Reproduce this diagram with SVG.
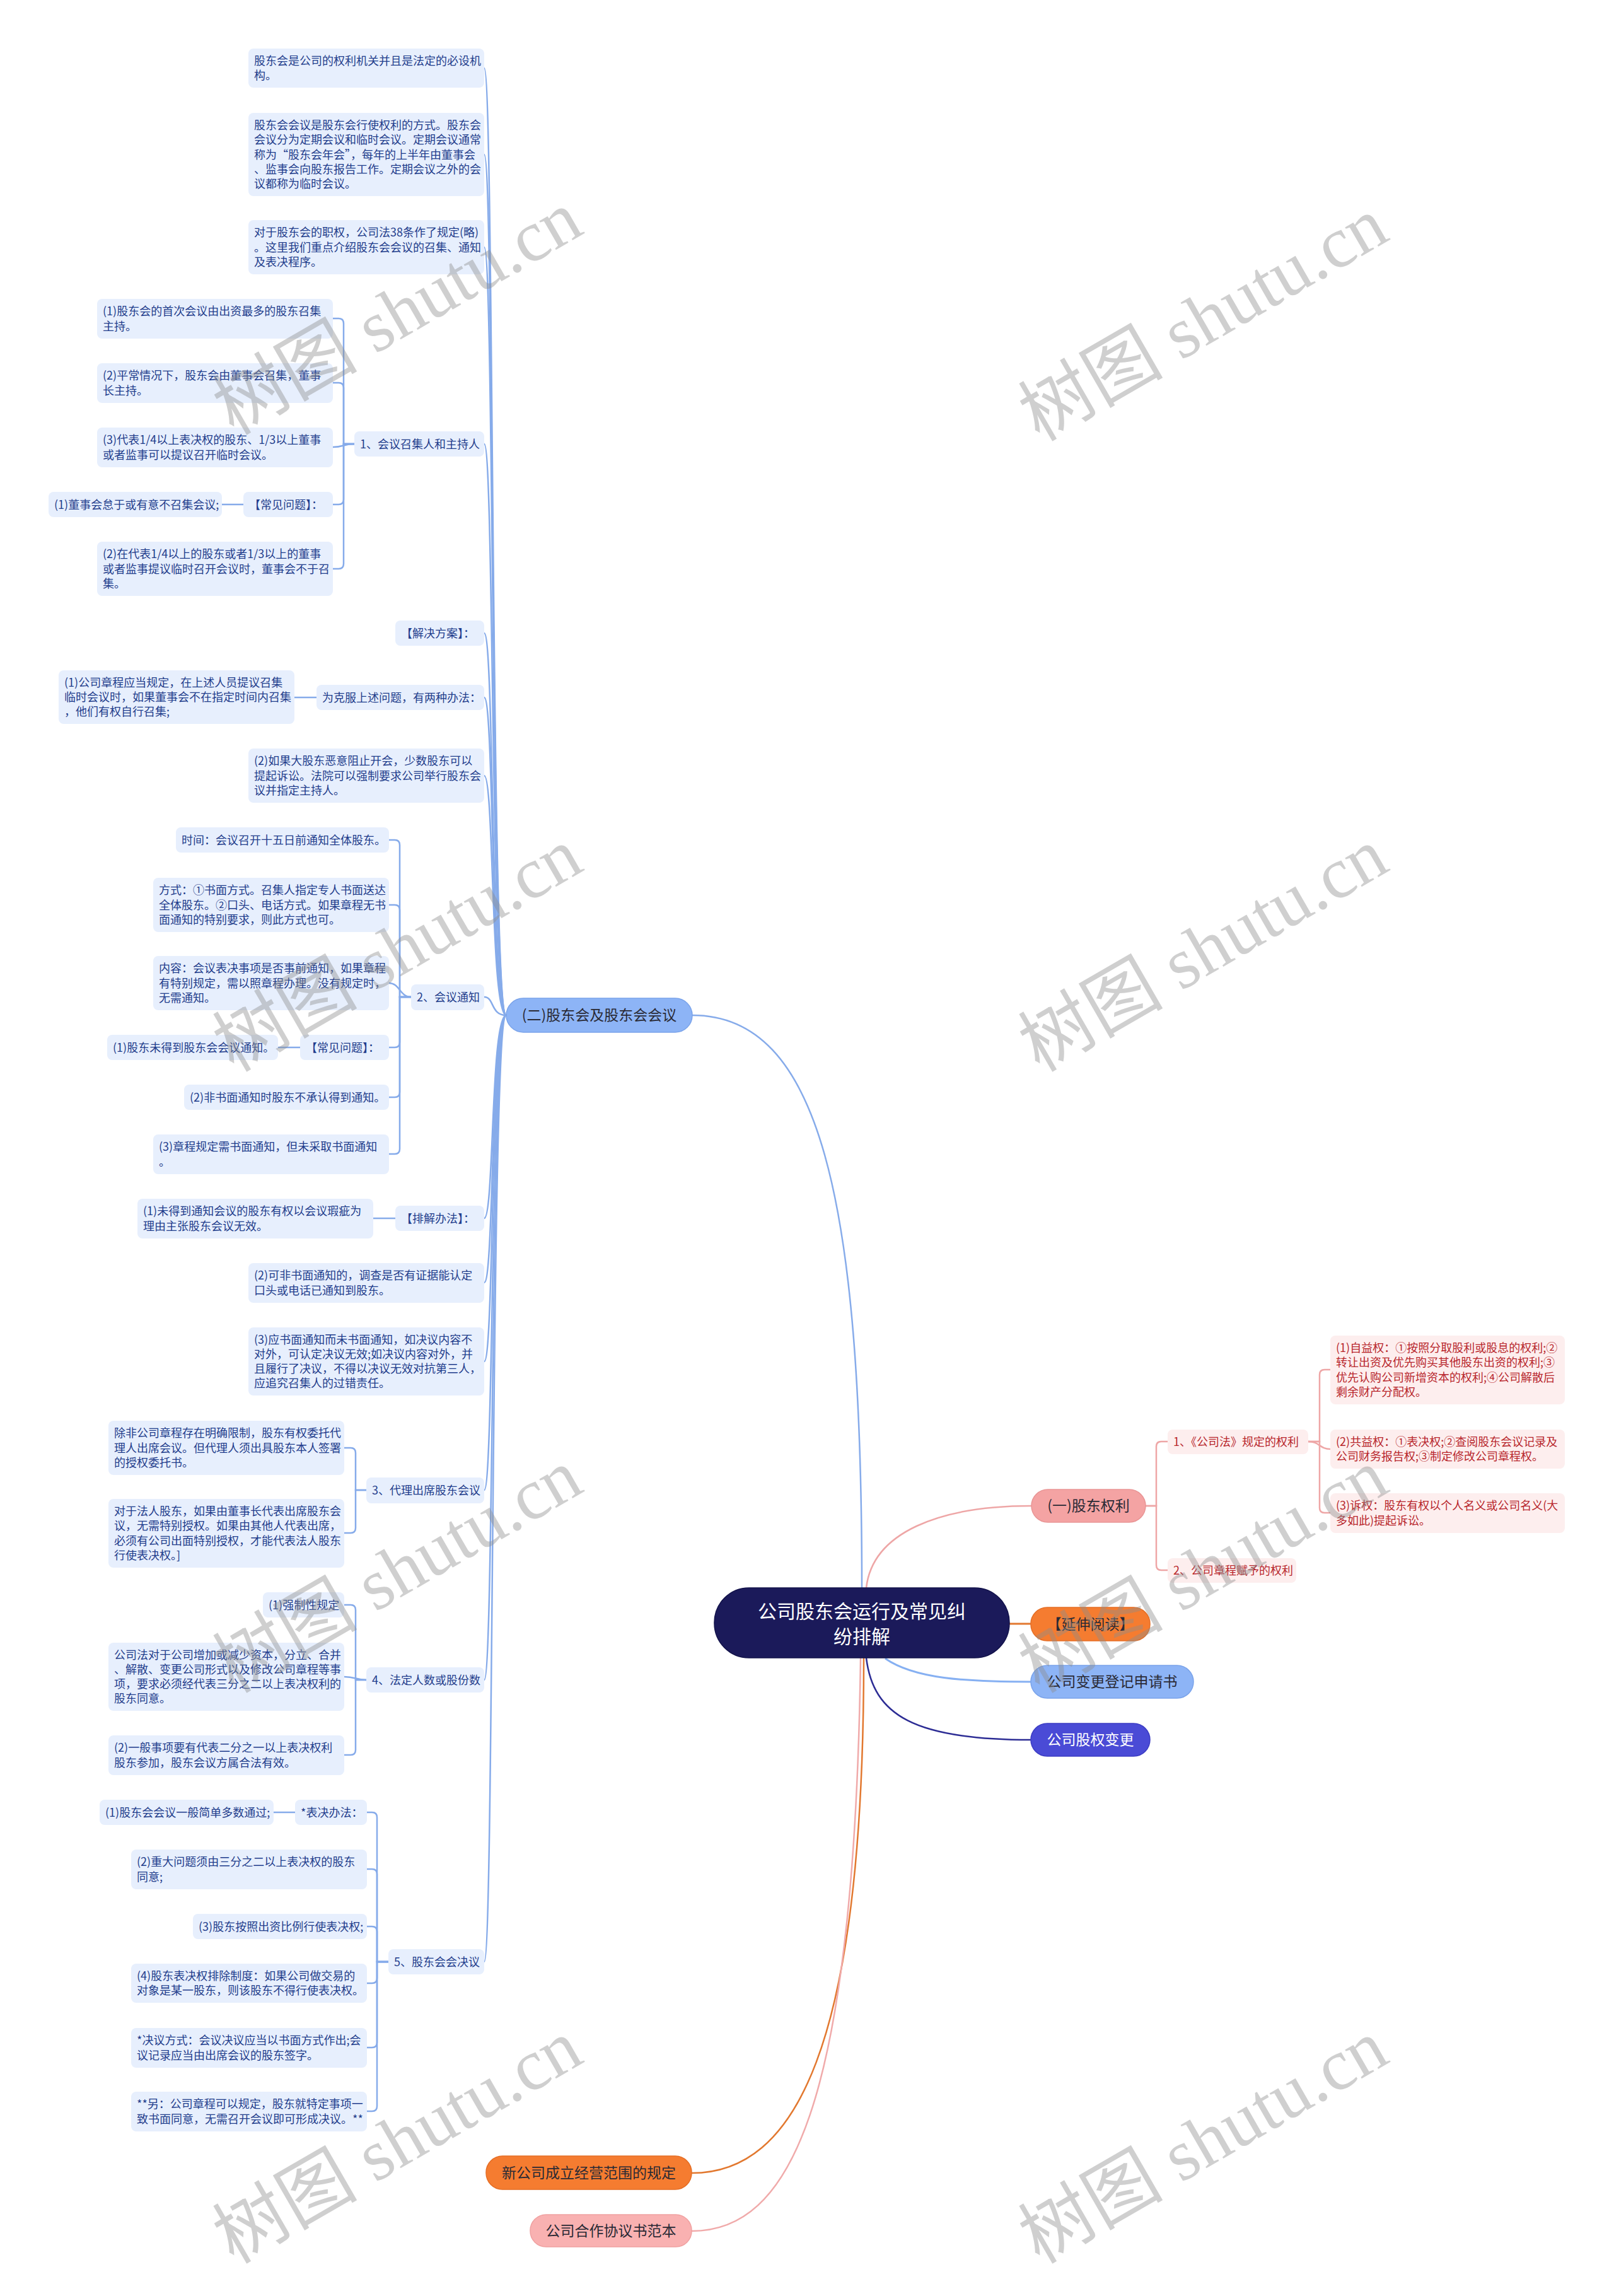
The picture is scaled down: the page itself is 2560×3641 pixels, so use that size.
<svg xmlns="http://www.w3.org/2000/svg" width="2560" height="3641" viewBox="0 0 2560 3641">
<style>
.bg{fill:#ffffff}
.bb{fill:#e7effd}
.pb{fill:#fdeeee}
.tb{font-family:"Noto Sans CJK SC","Liberation Sans",sans-serif;font-size:18px;fill:#1f3d8c}
.tp{font-family:"Noto Sans CJK SC","Liberation Sans",sans-serif;font-size:18px;fill:#b8262c}
.tm{font-family:"Noto Sans CJK SC","Liberation Sans",sans-serif;font-size:23px;fill:#2a2a35;text-anchor:middle}
.tw{font-family:"Noto Sans CJK SC","Liberation Sans",sans-serif;font-size:23px;fill:#ffffff;text-anchor:middle}
.tr{font-family:"Noto Sans CJK SC","Liberation Sans",sans-serif;font-size:30px;fill:#ffffff;text-anchor:middle}
.cb{fill:none;stroke:#86abea;stroke-width:2.5}
.cp{fill:none;stroke:#eea6a6;stroke-width:2.5}
.wm{font-family:"Liberation Serif","Noto Sans CJK SC",serif;font-size:115px;fill:#8c8c8c;fill-opacity:0.42}
</style>
<rect class="bg" x="0" y="0" width="2560" height="3641"/>

<g id="connectors">
  <path d="M1367,2518 C1367,1900 1300,1610 1098,1610" fill="none" stroke="#86abea" stroke-width="2.5"/>
  <path d="M1374,2518 C1384,2430 1490,2388 1636,2388" fill="none" stroke="#eea6a6" stroke-width="2.5"/>
  <path d="M1601,2575 H1635" fill="none" stroke="#e2782f" stroke-width="3"/>
  <path d="M1404,2630 C1450,2662 1530,2667 1635,2667" fill="none" stroke="#86b0f2" stroke-width="3"/>
  <path d="M1374,2629 C1385,2720 1450,2759 1635,2759" fill="none" stroke="#2c2c94" stroke-width="2.5"/>
  <path d="M1370,2629 C1370,3250 1260,3446 1097,3446" fill="none" stroke="#e2782f" stroke-width="2.5"/>
  <path d="M1365,2629 C1355,3350 1250,3538 1097,3538" fill="none" stroke="#f0aaaa" stroke-width="2.5"/>

  <path class="cb" d="M803,1610 C778,1610 784,108 768,108"/>
  <path class="cb" d="M803,1610 C778,1610 784,245 768,245"/>
  <path class="cb" d="M803,1610 C778,1610 784,392 768,392"/>
  <path class="cb" d="M803,1610 C778,1610 784,704 768,704"/>
  <path class="cb" d="M803,1610 C778,1610 784,1004 768,1004"/>
  <path class="cb" d="M803,1610 C778,1610 784,1106 768,1106"/>
  <path class="cb" d="M803,1610 C778,1610 784,1230 768,1230"/>
  <path class="cb" d="M803,1610 C778,1610 784,1581 768,1581"/>
  <path class="cb" d="M803,1610 C778,1610 784,1932 768,1932"/>
  <path class="cb" d="M803,1610 C778,1610 784,2034 768,2034"/>
  <path class="cb" d="M803,1610 C778,1610 784,2159 768,2159"/>
  <path class="cb" d="M803,1610 C778,1610 784,2363 768,2363"/>
  <path class="cb" d="M803,1610 C778,1610 784,2664 768,2664"/>
  <path class="cb" d="M803,1610 C778,1610 784,3111 768,3111"/>

  <path class="cb" d="M562,704 H545 V513 Q545,505 537,505 H528"/>
  <path class="cb" d="M562,704 H545 V615 Q545,607 537,607 H528"/>
  <path class="cb" d="M562,704 C545,704 545,709 528,709"/>
  <path class="cb" d="M562,704 H545 V792 Q545,800 537,800 H528"/>
  <path class="cb" d="M562,704 H545 V894 Q545,902 537,902 H528"/>
  <path class="cb" d="M386,800 H352"/>
  <path class="cb" d="M502,1106 H467"/>

  <path class="cb" d="M652,1581 H634 V1340 Q634,1332 626,1332 H617"/>
  <path class="cb" d="M652,1581 H634 V1443 Q634,1435 626,1435 H617"/>
  <path class="cb" d="M652,1581 C634,1581 634,1559 617,1559"/>
  <path class="cb" d="M652,1581 H634 V1653 Q634,1661 626,1661 H617"/>
  <path class="cb" d="M652,1581 H634 V1732 Q634,1740 626,1740 H617"/>
  <path class="cb" d="M652,1581 H634 V1822 Q634,1830 626,1830 H617"/>
  <path class="cb" d="M476,1661 H441"/>
  <path class="cb" d="M627,1932 H592"/>

  <path class="cb" d="M581,2363 H564 V2304 Q564,2296 556,2296 H546"/>
  <path class="cb" d="M581,2363 H564 V2423 Q564,2431 556,2431 H546"/>

  <path class="cb" d="M581,2664 H564 V2553 Q564,2545 556,2545 H546"/>
  <path class="cb" d="M581,2664 C564,2664 564,2659 546,2659"/>
  <path class="cb" d="M581,2664 H564 V2775 Q564,2783 556,2783 H546"/>

  <path class="cb" d="M616,3111 H598 V2882 Q598,2874 590,2874 H582"/>
  <path class="cb" d="M616,3111 H598 V2972 Q598,2964 590,2964 H582"/>
  <path class="cb" d="M616,3111 H598 V3063 Q598,3055 590,3055 H582"/>
  <path class="cb" d="M616,3111 H598 V3137 Q598,3145 590,3145 H582"/>
  <path class="cb" d="M616,3111 H598 V3239 Q598,3247 590,3247 H582"/>
  <path class="cb" d="M616,3111 H598 V3340 Q598,3348 590,3348 H582"/>
  <path class="cb" d="M468,2874 H434"/>

  <path class="cp" d="M1817,2388 H1834 V2294 Q1834,2286 1842,2286 H1852"/>
  <path class="cp" d="M1817,2388 H1834 V2482 Q1834,2490 1842,2490 H1852"/>
  <path class="cp" d="M2075,2286 H2093 V2180 Q2093,2172 2101,2172 H2110"/>
  <path class="cp" d="M2075,2286 C2093,2286 2093,2298 2110,2298"/>
  <path class="cp" d="M2075,2286 H2093 V2391 Q2093,2399 2101,2399 H2110"/>
</g>

<g id="root">
  <rect x="1133" y="2518" width="468" height="111" rx="55" fill="#1b1a5a" stroke="#12124a" stroke-width="1.5"/>
  <text class="tr" x="1367" y="2566">公司股东会运行及常见纠</text>
  <text class="tr" x="1367" y="2606">纷排解</text>
</g>

<g id="n-er">
  <rect x="803" y="1583" width="295" height="54" rx="27" fill="#8db4f6" stroke="#7aa3ea" stroke-width="1.5"/>
  <text class="tm" x="950.5" y="1618">(二)股东会及股东会会议</text>
</g>
<g id="n-yi">
  <rect x="1636" y="2362" width="181" height="52" rx="26" fill="#f4a3a3" stroke="#e99595" stroke-width="1.5"/>
  <text class="tm" x="1726.5" y="2396">(一)股东权利</text>
</g>
<g id="n-yanshen">
  <rect x="1635" y="2549" width="189" height="53" rx="26" fill="#f57c30" stroke="#e56e25" stroke-width="1.5"/>
  <text class="tm" x="1729.5" y="2583.5">【延伸阅读】</text>
</g>
<g id="n-biangeng">
  <rect x="1635" y="2641" width="258" height="52" rx="26" fill="#8db4f6" stroke="#7aa3ea" stroke-width="1.5"/>
  <text class="tm" x="1764" y="2675">公司变更登记申请书</text>
</g>
<g id="n-guquan">
  <rect x="1635" y="2733" width="189" height="52" rx="26" fill="#4a4bd6" stroke="#3c3dc4" stroke-width="1.5"/>
  <text class="tw" x="1729.5" y="2767">公司股权变更</text>
</g>
<g id="n-xingongsi">
  <rect x="771" y="3419" width="326" height="53" rx="26" fill="#f57c30" stroke="#e56e25" stroke-width="1.5"/>
  <text class="tm" x="934" y="3453.5">新公司成立经营范围的规定</text>
</g>
<g id="n-hezuo">
  <rect x="841" y="3512" width="256" height="51" rx="25" fill="#f9b1b1" stroke="#f0a0a0" stroke-width="1.5"/>
  <text class="tm" x="969" y="3545.5">公司合作协议书范本</text>
</g>

<g id="n-a"><rect class="bb" x="394" y="77" width="374" height="62" rx="8"/>
<text class="tb"><tspan x="403" y="102.9">股东会是公司的权利机关并且是法定的必设机</tspan><tspan x="403" y="126.1">构。</tspan></text></g>
<g id="n-b"><rect class="bb" x="394" y="179" width="374" height="132" rx="8"/>
<text class="tb"><tspan x="403" y="205.1">股东会会议是股东会行使权利的方式。股东会</tspan><tspan x="403" y="228.3">会议分为定期会议和临时会议。定期会议通常</tspan><tspan x="403" y="251.5">称为“股东会年会”，每年的上半年由董事会</tspan><tspan x="403" y="274.7">、监事会向股东报告工作。定期会议之外的会</tspan><tspan x="403" y="297.9">议都称为临时会议。</tspan></text></g>
<g id="n-c"><rect class="bb" x="394" y="349" width="374" height="86" rx="8"/>
<text class="tb"><tspan x="403" y="375.3">对于股东会的职权，公司法38条作了规定(略)</tspan><tspan x="403" y="398.5">。这里我们重点介绍股东会会议的召集、通知</tspan><tspan x="403" y="421.7">及表决程序。</tspan></text></g>
<g id="n-j"><rect class="bb" x="562" y="684" width="206" height="40" rx="8"/>
<text class="tb" x="571" y="710.5">1、会议召集人和主持人</text></g>
<g id="n-k"><rect class="bb" x="627" y="984" width="141" height="40" rx="8"/>
<text class="tb" x="636" y="1010.5">【解决方案】：</text></g>
<g id="n-l"><rect class="bb" x="502" y="1086" width="266" height="40" rx="8"/>
<text class="tb" x="511" y="1112.5">为克服上述问题，有两种办法：</text></g>
<g id="n-n"><rect class="bb" x="394" y="1187" width="374" height="86" rx="8"/>
<text class="tb"><tspan x="403" y="1213.3">(2)如果大股东恶意阻止开会，少数股东可以</tspan><tspan x="403" y="1236.5">提起诉讼。法院可以强制要求公司举行股东会</tspan><tspan x="403" y="1259.7">议并指定主持人。</tspan></text></g>
<g id="n-r"><rect class="bb" x="652" y="1561" width="116" height="41" rx="8"/>
<text class="tb" x="661" y="1588">2、会议通知</text></g>
<g id="n-x"><rect class="bb" x="627" y="1912" width="141" height="40" rx="8"/>
<text class="tb" x="636" y="1938.5">【排解办法】：</text></g>
<g id="n-y"><rect class="bb" x="394" y="2003" width="374" height="63" rx="8"/>
<text class="tb"><tspan x="403" y="2029.4">(2)可非书面通知的，调查是否有证据能认定</tspan><tspan x="403" y="2052.6">口头或电话已通知到股东。</tspan></text></g>
<g id="n-z"><rect class="bb" x="394" y="2105" width="374" height="108" rx="8"/>
<text class="tb"><tspan x="403" y="2130.7">(3)应书面通知而未书面通知，如决议内容不</tspan><tspan x="403" y="2153.9">对外，可认定决议无效;如决议内容对外，并</tspan><tspan x="403" y="2177.1">且履行了决议，不得以决议无效对抗第三人，</tspan><tspan x="403" y="2200.3">应追究召集人的过错责任。</tspan></text></g>
<g id="n-ac"><rect class="bb" x="581" y="2343" width="187" height="41" rx="8"/>
<text class="tb" x="590" y="2370">3、代理出席股东会议</text></g>
<g id="n-af"><rect class="bb" x="581" y="2644" width="187" height="40" rx="8"/>
<text class="tb" x="590" y="2670.5">4、法定人数或股份数</text></g>
<g id="n-al"><rect class="bb" x="616" y="3091" width="152" height="40" rx="8"/>
<text class="tb" x="625" y="3117.5">5、股东会会决议</text></g>

<g id="n-d"><rect class="bb" x="154" y="474" width="374" height="63" rx="8"/>
<text class="tb"><tspan x="163" y="500.4">(1)股东会的首次会议由出资最多的股东召集</tspan><tspan x="163" y="523.6">主持。</tspan></text></g>
<g id="n-e"><rect class="bb" x="154" y="576" width="374" height="63" rx="8"/>
<text class="tb"><tspan x="163" y="602.4">(2)平常情况下，股东会由董事会召集，董事</tspan><tspan x="163" y="625.6">长主持。</tspan></text></g>
<g id="n-f"><rect class="bb" x="154" y="678" width="374" height="63" rx="8"/>
<text class="tb"><tspan x="163" y="704.4">(3)代表1/4以上表决权的股东、1/3以上董事</tspan><tspan x="163" y="727.6">或者监事可以提议召开临时会议。</tspan></text></g>
<g id="n-h"><rect class="bb" x="386" y="780" width="142" height="40" rx="8"/>
<text class="tb" x="395" y="806.5">【常见问题】：</text></g>
<g id="n-g"><rect class="bb" x="77" y="780" width="275" height="40" rx="8"/>
<text class="tb" x="86" y="806.5">(1)董事会怠于或有意不召集会议;</text></g>
<g id="n-i"><rect class="bb" x="154" y="859" width="374" height="86" rx="8"/>
<text class="tb"><tspan x="163" y="885.3">(2)在代表1/4以上的股东或者1/3以上的董事</tspan><tspan x="163" y="908.5">或者监事提议临时召开会议时，董事会不于召</tspan><tspan x="163" y="931.7">集。</tspan></text></g>
<g id="n-m"><rect class="bb" x="93" y="1063" width="374" height="85" rx="8"/>
<text class="tb"><tspan x="102" y="1088.8">(1)公司章程应当规定，在上述人员提议召集</tspan><tspan x="102" y="1112">临时会议时，如果董事会不在指定时间内召集</tspan><tspan x="102" y="1135.2">，他们有权自行召集;</tspan></text></g>
<g id="n-o"><rect class="bb" x="279" y="1312" width="338" height="40" rx="8"/>
<text class="tb" x="288" y="1338.5">时间：会议召开十五日前通知全体股东。</text></g>
<g id="n-p"><rect class="bb" x="243" y="1392" width="374" height="86" rx="8"/>
<text class="tb"><tspan x="252" y="1418.3">方式：①书面方式。召集人指定专人书面送达</tspan><tspan x="252" y="1441.5">全体股东。②口头、电话方式。如果章程无书</tspan><tspan x="252" y="1464.7">面通知的特别要求，则此方式也可。</tspan></text></g>
<g id="n-q"><rect class="bb" x="243" y="1516" width="374" height="86" rx="8"/>
<text class="tb"><tspan x="252" y="1542.3">内容：会议表决事项是否事前通知，如果章程</tspan><tspan x="252" y="1565.5">有特别规定，需以照章程办理。没有规定时，</tspan><tspan x="252" y="1588.7">无需通知。</tspan></text></g>
<g id="n-t"><rect class="bb" x="476" y="1641" width="141" height="40" rx="8"/>
<text class="tb" x="485" y="1667.5">【常见问题】：</text></g>
<g id="n-s"><rect class="bb" x="170" y="1641" width="271" height="40" rx="8"/>
<text class="tb" x="179" y="1667.5">(1)股东未得到股东会会议通知。</text></g>
<g id="n-u"><rect class="bb" x="292" y="1720" width="325" height="40" rx="8"/>
<text class="tb" x="301" y="1746.5">(2)非书面通知时股东不承认得到通知。</text></g>
<g id="n-v"><rect class="bb" x="243" y="1799" width="374" height="63" rx="8"/>
<text class="tb"><tspan x="252" y="1825.4">(3)章程规定需书面通知，但未采取书面通知</tspan><tspan x="252" y="1848.6">。</tspan></text></g>
<g id="n-w"><rect class="bb" x="218" y="1901" width="374" height="63" rx="8"/>
<text class="tb"><tspan x="227" y="1927.4">(1)未得到通知会议的股东有权以会议瑕疵为</tspan><tspan x="227" y="1950.6">理由主张股东会议无效。</tspan></text></g>
<g id="n-aa"><rect class="bb" x="172" y="2253" width="374" height="86" rx="8"/>
<text class="tb"><tspan x="181" y="2279.3">除非公司章程存在明确限制，股东有权委托代</tspan><tspan x="181" y="2302.5">理人出席会议。但代理人须出具股东本人签署</tspan><tspan x="181" y="2325.7">的授权委托书。</tspan></text></g>
<g id="n-ab"><rect class="bb" x="172" y="2377" width="374" height="109" rx="8"/>
<text class="tb"><tspan x="181" y="2403.2">对于法人股东，如果由董事长代表出席股东会</tspan><tspan x="181" y="2426.4">议，无需特别授权。如果由其他人代表出席，</tspan><tspan x="181" y="2449.6">必须有公司出面特别授权，才能代表法人股东</tspan><tspan x="181" y="2472.8">行使表决权。]</tspan></text></g>
<g id="n-ad"><rect class="bb" x="417" y="2525" width="129" height="40" rx="8"/>
<text class="tb" x="426" y="2551.5">(1)强制性规定</text></g>
<g id="n-ae"><rect class="bb" x="172" y="2605" width="374" height="108" rx="8"/>
<text class="tb"><tspan x="181" y="2630.7">公司法对于公司增加或减少资本，分立、合并</tspan><tspan x="181" y="2653.9">、解散、变更公司形式以及修改公司章程等事</tspan><tspan x="181" y="2677.1">项，要求必须经代表三分之二以上表决权利的</tspan><tspan x="181" y="2700.3">股东同意。</tspan></text></g>
<g id="n-ag"><rect class="bb" x="172" y="2752" width="374" height="63" rx="8"/>
<text class="tb"><tspan x="181" y="2778.4">(2)一般事项要有代表二分之一以上表决权利</tspan><tspan x="181" y="2801.6">股东参加，股东会议方属合法有效。</tspan></text></g>
<g id="n-ai"><rect class="bb" x="468" y="2854" width="114" height="40" rx="8"/>
<text class="tb" x="477" y="2880.5">*表决办法：</text></g>
<g id="n-ah"><rect class="bb" x="158" y="2854" width="276" height="40" rx="8"/>
<text class="tb" x="167" y="2880.5">(1)股东会会议一般简单多数通过;</text></g>
<g id="n-aj"><rect class="bb" x="208" y="2933" width="374" height="63" rx="8"/>
<text class="tb"><tspan x="217" y="2959.4">(2)重大问题须由三分之二以上表决权的股东</tspan><tspan x="217" y="2982.6">同意;</tspan></text></g>
<g id="n-ak"><rect class="bb" x="306" y="3035" width="276" height="40" rx="8"/>
<text class="tb" x="315" y="3061.5">(3)股东按照出资比例行使表决权;</text></g>
<g id="n-am"><rect class="bb" x="208" y="3114" width="374" height="62" rx="8"/>
<text class="tb"><tspan x="217" y="3139.9">(4)股东表决权排除制度：如果公司做交易的</tspan><tspan x="217" y="3163.1">对象是某一股东，则该股东不得行使表决权。</tspan></text></g>
<g id="n-an"><rect class="bb" x="208" y="3216" width="374" height="63" rx="8"/>
<text class="tb"><tspan x="217" y="3242.4">*决议方式：会议决议应当以书面方式作出;会</tspan><tspan x="217" y="3265.6">议记录应当由出席会议的股东签字。</tspan></text></g>
<g id="n-ao"><rect class="bb" x="208" y="3317" width="374" height="63" rx="8"/>
<text class="tb"><tspan x="217" y="3343.4">**另：公司章程可以规定，股东就特定事项一</tspan><tspan x="217" y="3366.6">致书面同意，无需召开会议即可形成决议。**</tspan></text></g>

<g id="n-p2"><rect class="pb" x="1852" y="2267" width="223" height="39" rx="8"/>
<text class="tp" x="1861" y="2293">1、《公司法》规定的权利</text></g>
<g id="n-p3"><rect class="pb" x="1852" y="2471" width="204" height="39" rx="8"/>
<text class="tp" x="1861" y="2497">2、公司章程赋予的权利</text></g>
<g id="n-p4"><rect class="pb" x="2110" y="2118" width="372" height="109" rx="8"/>
<text class="tp"><tspan x="2119" y="2144.2">(1)自益权：①按照分取股利或股息的权利;②</tspan><tspan x="2119" y="2167.4">转让出资及优先购买其他股东出资的权利;③</tspan><tspan x="2119" y="2190.6">优先认购公司新增资本的权利;④公司解散后</tspan><tspan x="2119" y="2213.8">剩余财产分配权。</tspan></text></g>
<g id="n-p5"><rect class="pb" x="2110" y="2267" width="372" height="62" rx="8"/>
<text class="tp"><tspan x="2119" y="2292.9">(2)共益权：①表决权;②查阅股东会议记录及</tspan><tspan x="2119" y="2316.1">公司财务报告权;③制定修改公司章程权。</tspan></text></g>
<g id="n-p6"><rect class="pb" x="2110" y="2368" width="372" height="63" rx="8"/>
<text class="tp"><tspan x="2119" y="2394.4">(3)诉权：股东有权以个人名义或公司名义(大</tspan><tspan x="2119" y="2417.6">多如此)提起诉讼。</tspan></text></g>

<g id="watermarks">
  <text class="wm" text-anchor="middle" transform="translate(650,530) rotate(-30)">树图 shutu.cn</text>
  <text class="wm" text-anchor="middle" transform="translate(1928,540) rotate(-30)">树图 shutu.cn</text>
  <text class="wm" text-anchor="middle" transform="translate(650,1540) rotate(-30)">树图 shutu.cn</text>
  <text class="wm" text-anchor="middle" transform="translate(1928,1540) rotate(-30)">树图 shutu.cn</text>
  <text class="wm" text-anchor="middle" transform="translate(650,2525) rotate(-30)">树图 shutu.cn</text>
  <text class="wm" text-anchor="middle" transform="translate(1928,2525) rotate(-30)">树图 shutu.cn</text>
  <text class="wm" text-anchor="middle" transform="translate(650,3430) rotate(-30)">树图 shutu.cn</text>
  <text class="wm" text-anchor="middle" transform="translate(1928,3430) rotate(-30)">树图 shutu.cn</text>
</g>
</svg>
